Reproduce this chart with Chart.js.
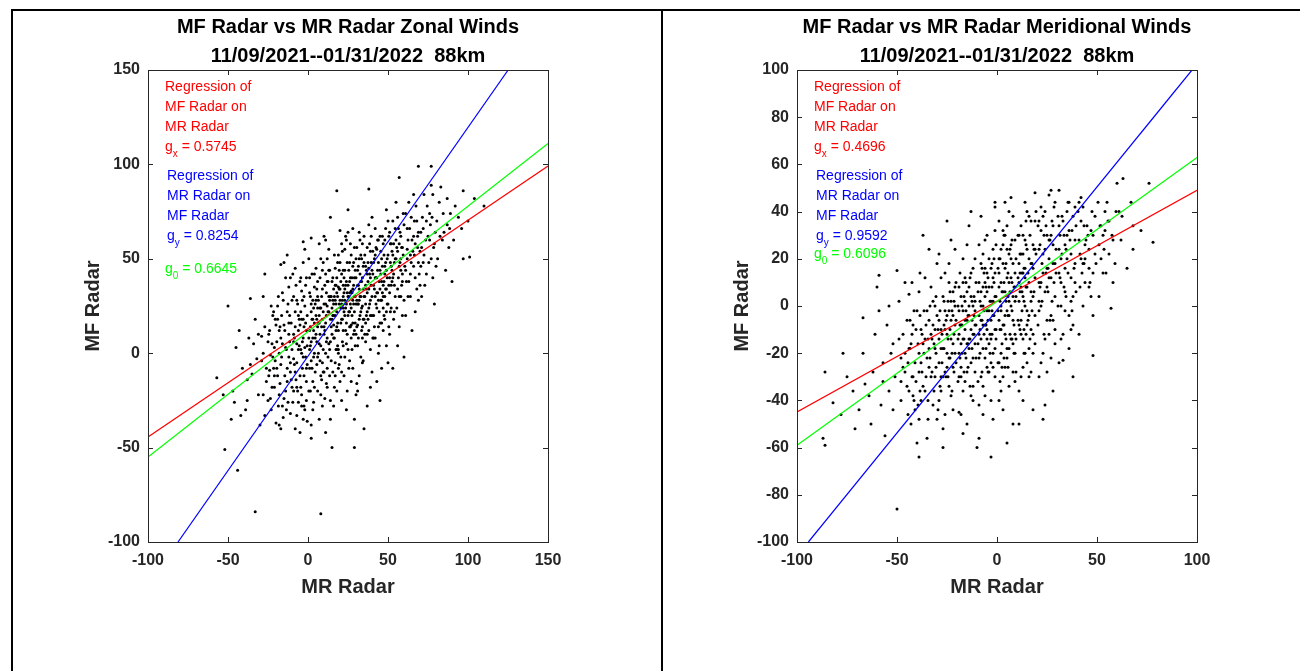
<!DOCTYPE html>
<html>
<head>
<meta charset="utf-8">
<script src="https://cdn.jsdelivr.net/npm/chart.js@4.4.1/dist/chart.umd.min.js"></script>
<style>
  body { margin: 0; background: #fff; }
  #wrap { position: relative; width: 1300px; height: 671px; overflow: hidden; }
  .rule { position: absolute; background: #000; }
  canvas { position: absolute; top: 0; }
</style>
</head>
<body>
<div id="wrap">
  <div class="rule" style="left:11px;top:9px;width:1289px;height:2px"></div>
  <div class="rule" style="left:11px;top:9px;width:2px;height:662px"></div>
  <div class="rule" style="left:661px;top:9px;width:2px;height:662px"></div>
  <canvas id="zonal" width="650" height="671" style="left:0"></canvas>
  <canvas id="merid" width="650" height="671" style="left:650px"></canvas>
</div>
<script>
var FONT = "'Liberation Sans', Arial, Helvetica, sans-serif";

// ticks
var zonalTicksX = [-100, -50, 0, 50, 100, 150];
var zonalTicksY = [-100, -50, 0, 50, 100, 150];
var meridTicksX = [-100, -50, 0, 50, 100];
var meridTicksY = [-100, -80, -60, -40, -20, 0, 20, 40, 60, 80, 100];

// gains printed in the boxes
var zonalGains = ["0.5745", "0.8254", "0.6645"];
var meridGains = ["0.4696", "0.9592", "0.6096"];

// regression lines [MR, MF]
var zonalFitX = [[-100, -44.4], [150, 99.2]];
var zonalFitY = [[-81.25, -100], [125.1, 150]];
var zonalFit0 = [[-100, -55], [150, 111.1]];
var meridFitX = [[-100, -44.9], [100, 49.0]];
var meridFitY = [[-94.3, -100], [97.5, 100]];
var meridFit0 = [[-100, -59], [100, 62.9]];

// zonal winds, [MR Radar, MF Radar] in m/s
var zonalPairs = [
[-57,-13],[-52,-51],[-50,25],[-53,-22],
[-44,-62],[-47,-20],[-42,-33],[-45,3],[-41,-8],[-48,-35],[-43,12],[-46,-26],
[-33,-84],[-36,29],[-38,-14],[-31,-22],[-34,5],[-39,-30],[-32,-3],[-37,8],[-30,-38],[-35,-11],[-33,18],[-38,-25],[-31,10],[-36,-6],
[-28,-22],[-24,-9],[-21,3],[-27,14],[-23,-30],[-29,-4],[-22,20],[-26,-15],[-20,-37],[-25,6],[-28,30],[-21,-18],[-24,12],[-27,-33],[-22,-2],[-29,9],[-23,25],[-26,-8],[-20,15],[-25,-25],[-28,0],[-21,-12],[-27,42],
[-18,-38],[-14,-20],[-11,-5],[-17,8],[-13,22],[-19,-12],[-12,35],[-16,-28],[-10,2],[-15,15],[-18,0],[-11,-32],[-14,40],[-17,-6],[-12,10],[-19,18],[-13,-15],[-16,5],[-10,28],[-15,-24],[-18,12],[-11,-10],[-14,3],[-17,-40],[-12,-2],[-19,25],[-13,-8],[-16,32],[-10,-18],[-15,48],[-18,-22],[-12,16],[-17,47],[-13,52],[-11,40],
[-8,-40],[-4,-22],[-1,-8],[-7,5],[-3,18],[-9,30],[-2,-30],[-6,12],[-5,-12],[-8,22],[-1,40],[-4,0],[-7,-18],[-3,8],[-9,-3],[-2,25],[-6,-26],[-5,15],[-8,45],[-1,-15],[-4,33],[-7,-5],[-3,-35],[-9,10],[-2,3],[-6,20],[-5,-42],[-8,-10],[-1,12],[-4,-28],[-7,28],[-3,-2],[-9,-20],[-2,55],[-6,2],[-5,38],[-8,14],[-1,-25],[-4,18],[-7,-33],[-3,48],[-9,6],[-3,59],
[2,-38],[6,-20],[9,-5],[3,8],[7,20],[1,32],[5,45],[8,-12],[4,0],[10,14],[2,26],[6,38],[9,-28],[3,18],[7,5],[1,-8],[5,28],[8,50],[4,-18],[10,10],[2,22],[6,-2],[9,34],[3,-30],[7,16],[1,12],[8,-85],[8,24],[4,42],[10,-10],[2,6],[6,30],[9,18],[3,-15],[7,58],[1,2],[5,20],[8,-22],[4,35],[10,26],[2,-4],[6,14],[9,44],[3,28],[7,-35],[1,40],[5,10],[8,4],[4,16],[10,62],[2,-45],[6,24],[2,61],
[11,-42],[14,-25],[17,-12],[19,0],[12,8],[16,15],[18,22],[13,30],[15,38],[20,48],[11,60],[14,72],[17,-5],[19,12],[12,25],[16,34],[18,-20],[13,5],[15,18],[20,28],[11,42],[14,-35],[17,20],[19,35],[12,-8],[16,26],[18,40],[13,55],[15,10],[20,-15],[11,16],[14,30],[17,45],[19,2],[12,38],[16,-28],[18,14],[13,22],[15,-50],[20,34],[11,0],[14,18],[17,28],[19,52],[12,-18],[16,8],[18,32],[13,44],[15,24],[20,65],[11,26],[14,6],[17,36],[19,-8],[12,50],[16,20],[18,2],[18,86],
[21,-10],[24,5],[27,15],[29,22],[22,30],[26,38],[28,46],[23,55],[25,64],[30,-22],[21,18],[24,26],[27,33],[29,40],[22,12],[26,-4],[28,28],[23,20],[25,36],[30,50],[21,42],[24,-30],[27,8],[29,30],[22,24],[26,48],[28,16],[23,34],[25,2],[30,26],[21,58],[24,38],[27,-15],[29,12],[22,44],[26,22],[28,66],[23,-2],[25,30],[30,40],[21,26],[24,16],[27,52],[29,-35],[22,4],[26,32],[28,-8],[23,44],[25,20],[30,10],[21,-25],[24,60],[27,24],[29,56],[22,36],[26,14],[28,34],[23,28],[25,76],[29,-50],
[31,-20],[34,-5],[37,10],[39,20],[32,28],[36,36],[38,45],[33,52],[35,62],[40,72],[31,15],[34,25],[37,32],[39,40],[32,-12],[36,6],[38,24],[33,38],[35,18],[40,30],[31,44],[34,58],[37,-28],[39,2],[32,34],[36,46],[38,12],[33,22],[35,30],[40,-10],[31,36],[34,8],[37,42],[39,54],[32,18],[36,26],[38,68],[33,-2],[35,48],[40,20],[31,4],[34,40],[37,22],[39,-18],[32,50],[36,16],[38,34],[33,30],[35,-40],[40,44],[31,26],[34,14],[37,56],[39,28],[32,64],[38,87],
[45,-25],[44,0],[47,12],[49,22],[42,30],[46,38],[48,46],[43,55],[45,62],[50,70],[41,20],[44,28],[47,36],[49,44],[42,8],[46,-8],[48,30],[43,40],[45,16],[50,52],[41,48],[44,60],[47,24],[49,34],[42,40],[46,50],[48,18],[43,-15],[45,34],[50,26],[41,36],[44,14],[47,58],[49,4],[42,66],[46,28],[48,42],[43,24],[45,44],[50,-5],[41,8],[44,48],[47,30],[49,76],[42,52],[46,16],[48,60],[43,32],
[51,10],[54,22],[57,30],[59,38],[52,46],[56,54],[58,62],[53,70],[55,80],[60,-2],[51,40],[54,48],[57,14],[59,56],[52,24],[56,34],[58,44],[53,52],[55,60],[60,28],[51,64],[54,36],[57,46],[59,20],[52,58],[56,4],[58,30],[53,40],[55,50],[60,68],[51,32],[57,93],[57,58],[59,42],[52,36],[56,72],[58,50],[53,-8],
[61,20],[64,30],[67,40],[69,48],[62,55],[66,62],[68,70],[63,80],[65,12],[70,36],[61,44],[64,52],[67,58],[69,28],[62,66],[66,46],[69,99],[63,38],[65,60],[70,54],[61,74],[64,42],[67,22],[69,64],[62,50],[66,84],[68,34],
[71,30],[74,42],[77,50],[79,58],[72,66],[76,74],[78,84],[73,36],[75,62],[80,46],[77,99],[77,89],[71,56],[74,70],[79,26],[72,48],[76,60],[78,40],
[81,50],[84,60],[87,68],[89,74],[82,80],[86,44],[88,56],[83,88],[85,64],[90,38],[87,82],
[91,60],[94,72],[97,86],[97,50],[92,78],[96,66],
[101,51],[100,70],[104,82],[110,78],
[-24.5,-12],[-22.5,5],[-20.5,18],[-18.5,-28],[-16.5,-2],[-14.5,12],[-12.5,26],[-10.5,-14],[-8.5,8],[-6.5,-20],[-23.5,-1],[-21.5,22],[-19.5,-8],[-17.5,14],[-15.5,-34],[-13.5,2],[-11.5,20],[-9.5,-26],[-7.5,36],[-5.5,4],
[-24.5,10],[-22.5,-18],[-20.5,-4],[-18.5,30],[-16.5,20],[-14.5,-12],[-12.5,-26],[-10.5,16],[-8.5,-6],[-6.5,26],[-23.5,-24],[-21.5,-8],[-19.5,6],[-17.5,-16],[-15.5,28],[-13.5,-30],[-11.5,6],[-9.5,42],[-7.5,-14],[-5.5,18],
[-4.5,2],[-2.5,-12],[-0.5,20],[1.5,-20],[3.5,12],[5.5,34],[7.5,-4],[9.5,22],[11.5,6],[13.5,-12],[-3.5,28],[-1.5,-2],[0.5,8],[2.5,42],[4.5,-10],[6.5,16],[8.5,30],[10.5,-24],[12.5,38],[14.5,14],
[-4.5,-18],[-2.5,14],[-0.5,-36],[1.5,4],[3.5,24],[5.5,-6],[7.5,10],[9.5,48],[11.5,-16],[13.5,28],[-3.5,6],[-1.5,36],[0.5,-20],[2.5,18],[4.5,26],[6.5,0],[8.5,-14],[10.5,12],[12.5,22],[14.5,-4],
[-4.5,22],[-2.5,-28],[-0.5,4],[1.5,30],[3.5,-2],[5.5,18],[7.5,40],[9.5,2],[11.5,32],[13.5,44],[-3.5,-8],[-1.5,16],[0.5,50],[2.5,-8],[4.5,8],[6.5,28],[8.5,14],[10.5,36],[12.5,-2],[14.5,30],
[-4.5,40],[-2.5,30],[-0.5,-6],[1.5,14],[3.5,-26],[5.5,6],[7.5,24],[9.5,-10],[11.5,20],[13.5,2],
[15.5,20],[17.5,36],[19.5,-6],[21.5,28],[23.5,12],[25.5,44],[27.5,20],[29.5,4],[31.5,36],[33.5,24],[16.5,8],[18.5,48],[20.5,16],[22.5,-12],[24.5,32],[26.5,58],[28.5,26],[30.5,14],[32.5,42],[34.5,-4],
[15.5,40],[17.5,2],[19.5,26],[21.5,54],[23.5,36],[25.5,-8],[27.5,40],[29.5,30],[31.5,8],[33.5,50],[16.5,30],[18.5,16],[20.5,38],[22.5,22],[24.5,10],[26.5,26],[28.5,48],[30.5,-16],[32.5,20],[34.5,34],
[15.5,-10],[17.5,26],[19.5,44],[21.5,6],[23.5,24],[25.5,30],[27.5,2],[29.5,44],[31.5,26],[33.5,12],[16.5,52],[18.5,30],[20.5,-2],[22.5,40],[24.5,48],[26.5,14],[28.5,36],[30.5,56],[32.5,30],[34.5,18],
[15.5,28],[17.5,12],[19.5,34],[21.5,18],[23.5,62],[25.5,22],[27.5,32],[29.5,16],[31.5,46],[33.5,38],[16.5,-18],[18.5,4],[20.5,24],[22.5,32],[24.5,-20],[26.5,40],[28.5,10],[30.5,28],[32.5,60],[34.5,46],
[35.5,30],[37.5,48],[39.5,36],[41.5,14],[43.5,44],[45.5,28],[47.5,52],[49.5,40],[51.5,22],[53.5,58],[36.5,20],[38.5,58],[40.5,42],[42.5,26],[44.5,4],[46.5,46],[48.5,34],[50.5,62],[52.5,44],[54.5,30],
[35.5,10],[37.5,38],[39.5,62],[41.5,50],[43.5,32],[45.5,54],[47.5,20],[49.5,50],[51.5,48],[53.5,18],[36.5,44],[38.5,26],[40.5,8],[42.5,56],[44.5,38],[46.5,32],[48.5,66],[50.5,36],[52.5,54],[54.5,66],
[35.5,52],[37.5,18],[39.5,48],[41.5,34],[43.5,60],[45.5,42],[47.5,38],[49.5,26],[51.5,58],[53.5,42],[36.5,34],[38.5,42],[40.5,54],[42.5,40],[44.5,22],[46.5,62],[48.5,48],[50.5,14],[52.5,38],[54.5,50],
[55.5,56],[56.5,40],[57.5,64],[58.5,36],[59.5,52],[55.5,24],[56.5,66],[57.5,48],[58.5,56],[59.5,74],
[60.5,46],[62.5,60],[64.5,48],[66.5,70],[68.5,56],[70.5,64],[72.5,52],[74.5,78],[76.5,68],[78.5,56],[61.5,38],[63.5,66],[65.5,54],[67.5,78],[69.5,42],[71.5,72],[73.5,60],[75.5,48],[77.5,72],[79.5,64],
[62.5,30],[64.5,72],[66.5,52],[68.5,62],[70.5,46],[72.5,84],[80.5,70],[82.5,62],[84.5,74],[88.5,66]
];

// meridional winds, [MR Radar, MF Radar] in m/s
var meridPairs = [
[-87,-56],[-86,-59],[-86,-28],[-82,-41],
[-78,-46],[-75,-30],[-72,-36],[-77,-20],[-71,-52],
[-67,-5],[-67,-20],[-64,-38],[-62,-28],[-69,-44],[-61,-12],[-66,-33],[-63,-50],[-60,8],
[-59,13],[-50,15],[-57,-24],[-54,-36],[-52,-16],[-58,-42],[-55,-8],[-51,-30],[-56,-55],[-53,-20],[-59,-2],[-50,-86],[-52,-44],[-57,-32],[-54,0],
[-48,-40],[-46,-28],[-44,-18],[-42,-8],[-49,2],[-45,-34],[-41,-24],[-47,-12],[-43,-50],[-40,-2],[-48,-22],[-46,10],[-44,-36],[-42,-30],[-49,-14],[-45,-6],[-41,-44],[-47,-26],[-43,-16],[-40,-58],[-48,-32],[-46,-20],[-44,5],[-42,-38],
[-39,-48],[-36,-36],[-34,-26],[-31,-18],[-38,-10],[-35,-2],[-33,8],[-30,18],[-37,30],[-32,-42],[-39,-20],[-36,-14],[-34,-6],[-31,-30],[-38,-24],[-35,-56],[-33,-12],[-30,-4],[-37,-34],[-32,2],[-39,-28],[-36,12],[-34,-18],[-31,-10],[-38,-40],[-35,-22],[-33,-30],[-30,-48],[-37,-16],[-32,-8],[-39,6],[-39,-64],[-34,24],[-31,0],
[-29,-40],[-27,-30],[-24,-22],[-22,-16],[-28,-10],[-25,-4],[-23,2],[-21,8],[-26,14],[-29,22],[-27,-52],[-24,-34],[-22,-26],[-28,-18],[-25,-12],[-23,-6],[-21,0],[-26,-28],[-29,-14],[-27,4],[-24,10],[-22,-44],[-28,-36],[-25,-20],[-23,-14],[-21,-8],[-26,-2],[-29,-24],[-27,-18],[-24,18],[-22,-4],[-28,-30],[-25,36],[-23,-38],[-21,24],[-26,-10],[-29,-6],[-27,-60],[-24,-2],[-22,6],[-28,12],[-25,-26],[-23,28],[-21,-20],[-26,-46],
[-19,-45],[-17,-36],[-15,-28],[-12,-22],[-18,-16],[-16,-10],[-14,-4],[-11,2],[-19,8],[-13,14],[-17,20],[-15,-50],[-12,-34],[-18,-26],[-16,-20],[-14,-14],[-11,-8],[-19,-2],[-13,4],[-17,10],[-15,26],[-12,-40],[-18,-30],[-16,-6],[-14,0],[-11,-16],[-19,-12],[-13,-24],[-17,-2],[-15,6],[-12,16],[-18,-46],[-16,-32],[-14,-18],[-11,-28],[-19,-20],[-13,-10],[-17,-14],[-15,-6],[-12,0],[-18,4],[-16,12],[-14,34],[-11,20],[-19,-30],[-13,-38],[-17,-54],[-15,-16],[-12,-12],[-18,-8],[-16,2],[-14,8],[-11,-2],[-13,40],[-10,-60],
[-9,-42],[-7,-34],[-5,-26],[-2,-20],[-8,-14],[-6,-8],[-4,-2],[-1,4],[-9,10],[-3,16],[-7,22],[-5,30],[-2,-48],[-8,-30],[-6,-22],[-4,-16],[-1,-10],[-9,-4],[-3,2],[-7,8],[-5,14],[-2,24],[-8,38],[-6,-38],[-4,-28],[-1,-18],[-9,-12],[-3,-6],[-7,0],[-5,6],[-2,12],[-8,18],[-6,28],[-1,44],[-1,-30],[-9,-22],[-3,-14],[-7,-8],[-5,-2],[-2,2],[-8,6],[-6,10],[-4,20],[-1,32],[-9,-56],[-3,-40],[-7,-18],[-5,-10],[-2,-4],[-8,0],[-6,4],[-4,8],[-1,14],[-9,26],[-3,-24],[-7,-46],[-5,-14],[-2,-26],[-8,-6],[-6,16],[-1,42],[-3,-64],
[1,-40],[3,-30],[5,-22],[8,-16],[2,-10],[4,-4],[6,2],[9,8],[1,14],[7,20],[3,26],[5,34],[8,-50],[2,-36],[4,-26],[6,-18],[9,-12],[1,-6],[7,0],[3,6],[5,12],[8,18],[2,24],[4,30],[6,40],[9,-32],[1,-24],[7,-14],[3,-8],[5,-2],[8,4],[2,10],[4,16],[6,22],[9,28],[1,36],[7,46],[3,-44],[5,-18],[8,-6],[2,0],[4,6],[6,10],[9,14],[1,20],[7,26],[3,32],[5,-58],[8,-28],[2,-20],[4,-12],[6,-4],[9,2],[1,8],[7,12],[3,18],[5,24],[8,38],[2,-2],[6,-34],[4,44],[9,-20],
[11,-36],[13,-26],[16,-18],[18,-12],[12,-6],[14,0],[17,6],[19,12],[11,18],[15,24],[13,30],[16,38],[18,-44],[12,-30],[14,-20],[17,-10],[19,-4],[11,2],[15,8],[13,14],[16,20],[18,26],[12,34],[14,44],[17,-28],[19,-16],[11,-8],[15,-2],[13,4],[16,10],[18,16],[12,22],[14,28],[17,36],[19,48],[11,-50],[15,-24],[13,-14],[16,-4],[18,4],[12,8],[14,12],[17,18],[19,24],[11,30],[15,40],[13,-40],[16,-30],[18,-20],[12,-12],[14,16],[17,2],[19,36],[11,10],[15,-8],[13,22],
[21,-30],[23,-20],[26,-12],[28,-6],[22,0],[24,6],[27,12],[29,18],[21,24],[25,30],[23,38],[26,47],[28,-36],[22,-24],[24,-14],[27,-4],[29,4],[21,10],[25,16],[23,22],[26,28],[28,34],[22,42],[24,-42],[27,-22],[29,-10],[21,-2],[25,8],[23,14],[26,20],[28,26],[22,32],[24,40],[27,49],[29,-16],[21,2],[25,-6],[23,-48],[26,12],[28,18],[22,10],[24,24],[27,30],[29,44],[21,36],[25,-28],
[31,-24],[33,-12],[36,-4],[38,4],[32,10],[34,16],[37,22],[39,28],[31,34],[35,40],[31,49],[36,-18],[38,-8],[32,0],[34,6],[37,12],[39,18],[31,24],[35,30],[33,36],[36,44],[38,-30],[32,-14],[34,26],[37,2],[39,10],[31,14],[35,20],[33,-23],[36,32],[38,38],[32,20],[34,-2],[37,-10],[39,42],
[41,-12],[43,0],[46,8],[48,14],[42,20],[44,26],[47,32],[49,38],[41,44],[48,-21],[43,18],[46,24],[48,30],[42,36],[44,10],[47,4],[49,22],[41,28],[45,34],[43,42],[46,16],[48,-4],[42,46],[44,20],
[51,4],[53,14],[56,22],[58,28],[52,34],[54,40],[57,-1],[59,18],[51,26],[55,44],[53,30],[56,36],[58,10],[52,20],[54,32],
[60,52],[63,54],[62,28],[68,34],[65,16],[68,24],[61,40],[67,44],
[72,32],[76,52],[78,27],
[-44.5,-24],[-42.5,-12],[-40.5,-32],[-38.5,-4],[-36.5,-20],[-34.5,-40],[-32.5,-14],[-30.5,-26],[-28.5,-2],[-26.5,-18],[-43.5,-6],[-41.5,-40],[-39.5,-16],[-37.5,-28],[-35.5,-8],[-33.5,-22],[-31.5,-36],[-29.5,-10],[-27.5,-24],[-25.5,-6],
[-44.5,-46],[-42.5,-30],[-40.5,-10],[-38.5,-36],[-36.5,-2],[-34.5,-14],[-32.5,-28],[-30.5,4],[-28.5,-34],[-26.5,-8],[-43.5,-18],[-41.5,-2],[-39.5,-42],[-37.5,-12],[-35.5,-30],[-33.5,0],[-31.5,-16],[-29.5,-44],[-27.5,-12],[-25.5,-30],
[-42.5,10],[-38.5,14],[-34.5,-48],[-30.5,-20],[-26.5,2],
[-24.5,-14],[-22.5,-2],[-20.5,-24],[-18.5,-8],[-16.5,4],[-14.5,-16],[-12.5,-6],[-10.5,-22],[-8.5,2],[-6.5,-12],[-23.5,6],[-21.5,-12],[-19.5,-32],[-17.5,-20],[-15.5,-2],[-13.5,12],[-11.5,-4],[-9.5,-16],[-7.5,-28],[-5.5,8],
[-24.5,-30],[-22.5,-20],[-20.5,-6],[-18.5,14],[-16.5,-14],[-14.5,-26],[-12.5,2],[-10.5,-8],[-8.5,-20],[-6.5,-2],[-23.5,-10],[-21.5,2],[-19.5,-14],[-17.5,0],[-15.5,-22],[-13.5,-34],[-11.5,-12],[-9.5,6],[-7.5,-6],[-5.5,-18],
[-24.5,2],[-22.5,-36],[-20.5,10],[-18.5,-22],[-16.5,-28],[-14.5,-4],[-12.5,-18],[-10.5,10],[-8.5,-10],[-6.5,14],[-23.5,-22],[-21.5,-28],[-19.5,0],[-17.5,-8],[-15.5,10],[-13.5,-14],[-11.5,4],[-9.5,-32],[-7.5,16],[-5.5,-8],
[-4.5,-6],[-2.5,8],[-0.5,-14],[1.5,2],[3.5,-8],[5.5,14],[7.5,-2],[9.5,20],[11.5,6],[13.5,-10],[-3.5,-20],[-1.5,-4],[0.5,16],[2.5,-16],[4.5,2],[6.5,-12],[8.5,8],[10.5,-6],[12.5,14],[14.5,26],
[-4.5,12],[-2.5,-12],[-0.5,4],[1.5,20],[3.5,-22],[5.5,-4],[7.5,10],[9.5,-14],[11.5,22],[13.5,2],[-3.5,2],[-1.5,20],[0.5,-24],[2.5,6],[4.5,-14],[6.5,24],[8.5,-8],[10.5,12],[12.5,-2],[14.5,8],
[-4.5,-28],[-2.5,-2],[-0.5,26],[1.5,-10],[3.5,10],[5.5,-26],[7.5,28],[9.5,4],[11.5,-10],[13.5,16],[-3.5,-12],[-1.5,10],[0.5,-2],[2.5,-26],[4.5,18],[6.5,6],[8.5,-20],[10.5,30],[12.5,6],[14.5,-12],
[-2.5,18],[-0.5,-10],[1.5,-32],[3.5,30],[5.5,4],[7.5,-14],[9.5,-28],[11.5,14],[13.5,-20],[14.5,36],
[15.5,14],[17.5,-2],[19.5,22],[21.5,8],[23.5,30],[25.5,16],[27.5,2],[29.5,24],[31.5,12],[33.5,30],[16.5,30],[18.5,6],[20.5,-8],[22.5,18],[24.5,34],[26.5,-6],[28.5,10],[30.5,38],[32.5,22],[34.5,4],
[15.5,-6],[17.5,18],[19.5,40],[21.5,26],[23.5,-12],[25.5,6],[27.5,36],[29.5,14],[31.5,30],[33.5,8],[16.5,-14],[18.5,24],[20.5,34],[22.5,2],[24.5,14],[26.5,28],[28.5,42],[30.5,0],[32.5,38],[34.5,24],
[35.5,14],[37.5,32],[39.5,6],[41.5,22],[43.5,34],[36.5,28],[38.5,16],[40.5,40],[42.5,14],[44.5,28],[35.5,44],[37.5,-2],[39.5,34],[41.5,8],[43.5,18],
[45.5,30],[47.5,40],[49.5,18],[51.5,34],[53.5,24],[55.5,36],[57.5,30],[59.5,40],[46.5,10],[50.5,44],[54.5,14],[62.5,38]
];

function toXY(pairs) {
  return pairs.map(function (p) { return { x: p[0], y: p[1] }; });
}

function lineSet(pairs, color) {
  return {
    data: toXY(pairs), showLine: true, borderColor: color, borderWidth: 1.2,
    pointRadius: 0, pointHoverRadius: 0, fill: false
  };
}

function noteList(gains) {
  return [
    { text: "Regression of", color: "#ff0000", dx: 17, dy: 16 },
    { text: "MF Radar on", color: "#ff0000", dx: 17, dy: 36 },
    { text: "MR Radar", color: "#ff0000", dx: 17, dy: 56 },
    { sub: "x", val: gains[0], color: "#ff0000", dx: 17, dy: 76 },
    { text: "Regression of", color: "#0000ff", dx: 19, dy: 105 },
    { text: "MR Radar on", color: "#0000ff", dx: 19, dy: 125 },
    { text: "MF Radar", color: "#0000ff", dx: 19, dy: 145 },
    { sub: "y", val: gains[1], color: "#0000ff", dx: 19, dy: 165 },
    { sub: "0", val: gains[2], color: "#00ff00", dx: 17, dy: 0 }
  ];
}

// box, inward ticks, titles and the regression notes
var decor = {
  id: "decor",
  afterDraw: function (chart) {
    var o = chart.options.plugins.decor;
    var ctx = chart.ctx, a = chart.chartArea;
    var xs = chart.scales.x, ys = chart.scales.y;
    var cx = (a.left + a.right) / 2, cy = (a.top + a.bottom) / 2;
    ctx.save();
    ctx.strokeStyle = "#262626";
    ctx.lineWidth = 1;
    ctx.strokeRect(a.left + 0.5, a.top + 0.5, a.right - a.left, a.bottom - a.top);
    ctx.beginPath();
    xs.ticks.forEach(function (t) {
      var px = Math.round(xs.getPixelForValue(t.value)) + 0.5;
      ctx.moveTo(px, a.bottom); ctx.lineTo(px, a.bottom - 5);
      ctx.moveTo(px, a.top); ctx.lineTo(px, a.top + 5);
    });
    ys.ticks.forEach(function (t) {
      var py = Math.round(ys.getPixelForValue(t.value)) + 0.5;
      ctx.moveTo(a.left, py); ctx.lineTo(a.left + 5, py);
      ctx.moveTo(a.right, py); ctx.lineTo(a.right - 5, py);
    });
    ctx.stroke();

    ctx.fillStyle = "#000";
    ctx.textAlign = "center";
    ctx.font = "bold 20px " + FONT;
    ctx.fillText(o.title[0], cx, 33);
    ctx.fillText(o.title[1], cx, 62);

    ctx.fillStyle = "#262626";
    ctx.fillText("MR Radar", cx, 593);
    ctx.translate(o.yTitleX, cy);
    ctx.rotate(-Math.PI / 2);
    ctx.fillText("MF Radar", 0, 7);
    ctx.setTransform(1, 0, 0, 1, 0, 0);

    ctx.textAlign = "left";
    o.notes.forEach(function (n) {
      var x = a.left + n.dx;
      var y = a.top + (n.sub === "0" ? o.g0dy : n.dy) + 5;
      ctx.fillStyle = n.color;
      ctx.font = "14px " + FONT;
      if (n.sub) {
        ctx.fillText("g", x, y);
        var w = ctx.measureText("g").width;
        ctx.font = "10px " + FONT;
        ctx.fillText(n.sub, x + w, y + 6);
        var w2 = ctx.measureText(n.sub).width;
        ctx.font = "14px " + FONT;
        ctx.fillText(" = " + n.val, x + w + w2, y);
      } else {
        ctx.fillText(n.text, x, y);
      }
    });
    ctx.restore();
  }
};

function makeChart(id, c) {
  var tickFont = { family: FONT, size: 16, weight: "bold" };
  return new Chart(document.getElementById(id), {
    type: "scatter",
    data: {
      datasets: [
        lineSet(c.fitY, "#0000ff"),
        lineSet(c.fit0, "#00ff00"),
        lineSet(c.fitX, "#ff0000"),
        {
          data: toXY(c.pairs), pointRadius: 1.5, pointHoverRadius: 0,
          pointBackgroundColor: "#000", pointBorderWidth: 0, showLine: false
        }
      ]
    },
    options: {
      responsive: false,
      animation: false,
      events: [],
      layout: { padding: { top: 70, right: c.padRight, left: 0, bottom: 0 } },
      plugins: {
        legend: { display: false },
        tooltip: { enabled: false },
        decor: { title: c.title, yTitleX: c.yTitleX, notes: noteList(c.gains), g0dy: c.g0dy }
      },
      scales: {
        x: {
          type: "linear", min: c.ticksX[0], max: c.ticksX[c.ticksX.length - 1],
          afterFit: function (s) { s.height = 129; },
          afterBuildTicks: function (s) { s.ticks = c.ticksX.map(function (v) { return { value: v }; }); },
          grid: { display: false, drawTicks: false },
          border: { display: false },
          ticks: { color: "#262626", font: tickFont, padding: 9, maxRotation: 0, autoSkip: false }
        },
        y: {
          type: "linear", min: c.ticksY[0], max: c.ticksY[c.ticksY.length - 1],
          afterFit: function (s) { s.width = c.left; },
          afterBuildTicks: function (s) { s.ticks = c.ticksY.map(function (v) { return { value: v }; }); },
          grid: { display: false, drawTicks: false },
          border: { display: false },
          ticks: { color: "#262626", font: tickFont, padding: 8, autoSkip: false }
        }
      }
    },
    plugins: [decor]
  });
}

makeChart("zonal", {
  pairs: zonalPairs, fitX: zonalFitX, fitY: zonalFitY, fit0: zonalFit0,
  ticksX: zonalTicksX, ticksY: zonalTicksY, gains: zonalGains,
  title: ["MF Radar vs MR Radar Zonal Winds", "11/09/2021--01/31/2022  88km"],
  left: 148, padRight: 102, yTitleX: 92, g0dy: 198
});

makeChart("merid", {
  pairs: meridPairs, fitX: meridFitX, fitY: meridFitY, fit0: meridFit0,
  ticksX: meridTicksX, ticksY: meridTicksY, gains: meridGains,
  title: ["MF Radar vs MR Radar Meridional Winds", "11/09/2021--01/31/2022  88km"],
  left: 147, padRight: 103, yTitleX: 91, g0dy: 183
});
</script>
</body>
</html>
